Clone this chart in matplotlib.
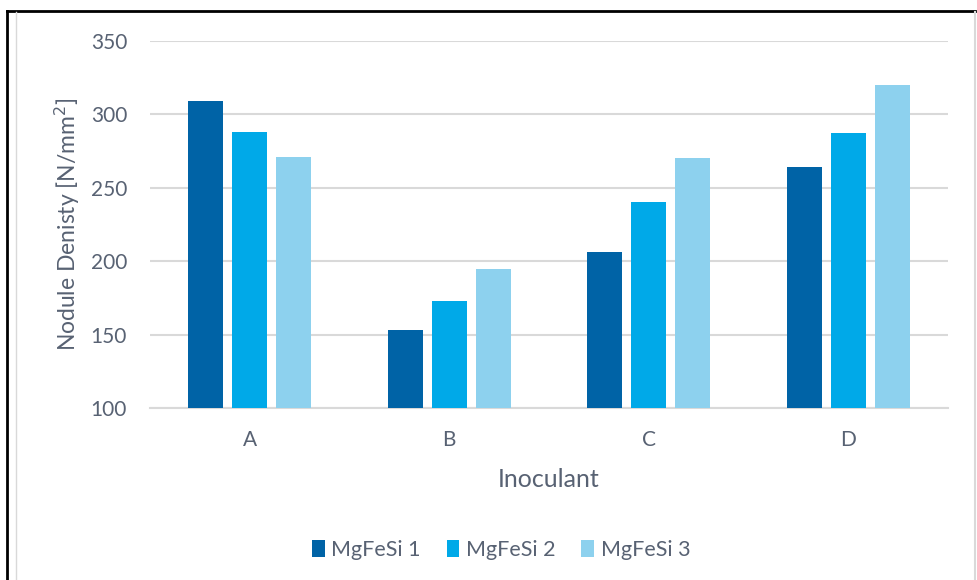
import numpy as np
import matplotlib.pyplot as plt
from matplotlib.lines import Line2D

# nodule density per inoculant and MgFeSi grade
inoculants = ['A', 'B', 'C', 'D']
mgfesi_1 = [309, 153, 206, 264]
mgfesi_2 = [288, 173, 240, 287]
mgfesi_3 = [271, 195, 270, 320]
series_names = ['MgFeSi 1', 'MgFeSi 2', 'MgFeSi 3']

colors = ['#0063a6', '#00a9e8', '#8dd1ee']
txt = '#586273'

plt.rcParams['font.family'] = ['Lato', 'DejaVu Sans']

fig = plt.figure(figsize=(9.78, 5.8), dpi=100)
ax = fig.add_axes([150/978, 172/580, 798/978, 367/580])

x = np.arange(len(inoculants))
w = 0.175
step = 0.22
for i, (vals, name) in enumerate(zip([mgfesi_1, mgfesi_2, mgfesi_3], series_names)):
    ax.bar(x + (i - 1)*step, np.array(vals) - 100, bottom=100, width=w,
           color=colors[i], label=name, zorder=3)

ax.set_xlim(-0.5, 3.5)
ax.set_ylim(100, 350)
ax.set_yticks([100, 150, 200, 250, 300, 350])
ax.set_xticks(x)
ax.set_xticklabels(inoculants)
ax.grid(axis='y', color='#d9d9d9', lw=1.5, zorder=0)
for s in ['top', 'right', 'left']:
    ax.spines[s].set_visible(False)
ax.spines['bottom'].set_color('#d9d9d9')
ax.spines['bottom'].set_linewidth(1.5)
ax.tick_params(length=0, labelsize=15, colors=txt)
ax.tick_params(axis='y', pad=16.5)
ax.tick_params(axis='x', pad=16)

ax.set_ylabel('Nodule Denisty [N/mm$^2$]', fontsize=16.5, color=txt, labelpad=6)
ax.set_xlabel('Inoculant', fontsize=18, color=txt, labelpad=13)

fig.legend(loc='center', bbox_to_anchor=(501/978, 1 - 550/580), ncol=3,
           frameon=False, fontsize=15.5, labelcolor=txt, handlelength=0.6,
           handleheight=0.8, handletextpad=0.3, columnspacing=1.2)

# frame lines around the chart
fig.add_artist(Line2D([7/978, 7/978], [0, 1 - 11/580], color='black', lw=2))
fig.add_artist(Line2D([7/978, 975/978], [1 - 11/580, 1 - 11/580], color='black', lw=2))
fig.add_artist(Line2D([16/978, 16/978], [0, 1 - 12/580], color='#d9d9d9', lw=1))
fig.add_artist(Line2D([975/978, 975/978], [0, 1 - 12/580], color='#d9d9d9', lw=1.5))

fig.savefig('out.png', dpi=100)
